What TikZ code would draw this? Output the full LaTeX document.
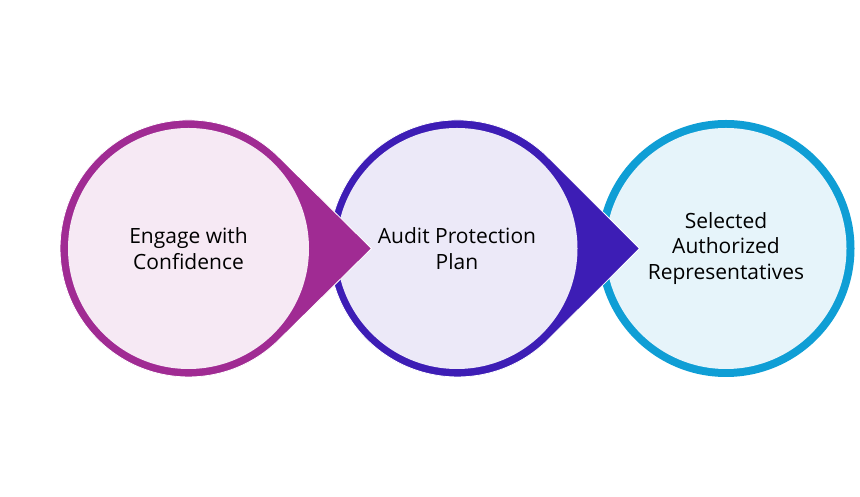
\documentclass[tikz,border=0pt]{standalone}
\usepackage{fontspec}
\setmainfont{Open Sans}
\definecolor{plum}{HTML}{A02B93}
\definecolor{plumpale}{HTML}{F6E9F4}
\definecolor{indigo}{HTML}{3D1DB5}
\definecolor{indigopale}{HTML}{ECE9F8}
\definecolor{sky}{HTML}{0F9ED5}
\definecolor{skypale}{HTML}{E6F4FA}
\tikzset{
  inner/.style={circle, minimum size=241pt, inner sep=0pt, align=center, font=\fontsize{21pt}{25.3pt}\selectfont},
  drop/.style={draw=white, line width=0.8pt, line join=miter}
}
\begin{document}
\begin{tikzpicture}[x=1pt, y=1pt]
    \useasboundingbox (0,0) rectangle (860,497);

    % right circle first, the others lie over it
    \node (r3) at (726,248.5) [circle, fill=sky, minimum size=257pt, inner sep=0pt] {};
    \node (c3) at (726,248.5) [inner, fill=skypale] {Selected\\Authorized\\Representatives};

    \coordinate (t2) at (639.5,248.5);
    \fill[indigo, drop] (t2) -- (548.4,339.4) arc[start angle=45, end angle=315, radius=128.5] -- cycle;
    \node (c2) at (457,248.5) [inner, fill=indigopale] {Audit Protection\\Plan};

    \coordinate (t1) at (371.5,248.5);
    \fill[plum, drop] (t1) -- (279.4,339.4) arc[start angle=45, end angle=315, radius=128.5] -- cycle;
    \node (c1) at (188.5,248.5) [inner, fill=plumpale] {Engage with\\Confidence};
  \end{tikzpicture}
\end{document}
